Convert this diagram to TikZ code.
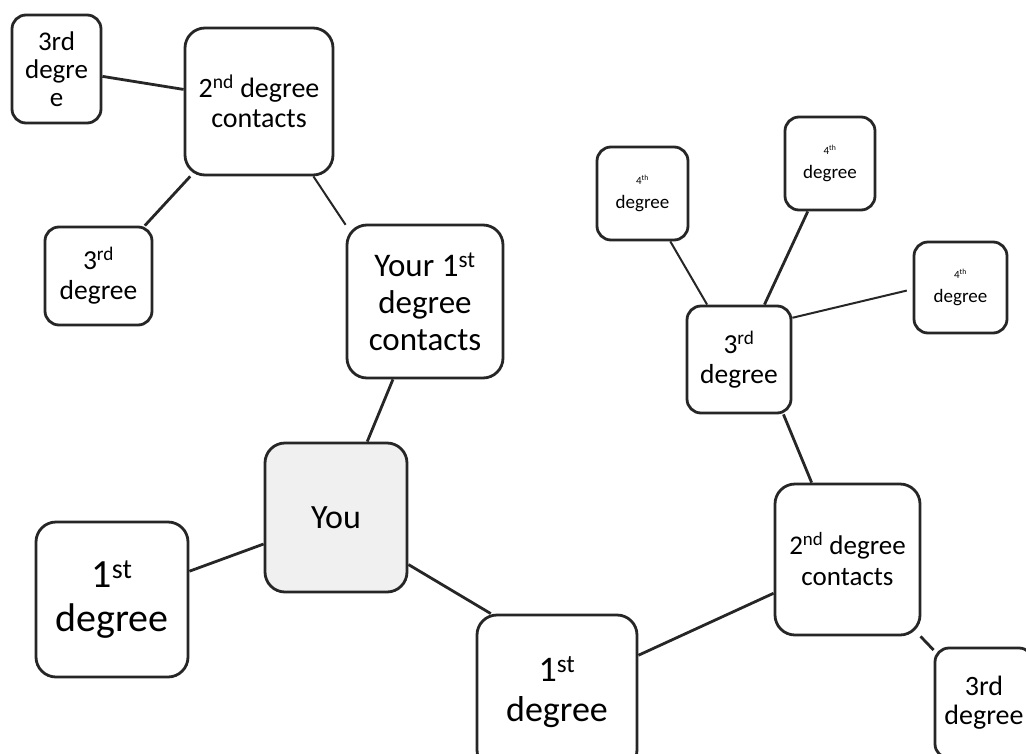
\documentclass[tikz,border=0pt]{standalone}
\usepackage{fontspec}
\setmainfont{Carlito}
\definecolor{bordercol}{HTML}{262626}
\definecolor{youfill}{HTML}{F0F0F0}
\newcommand\fsz[2]{\fontsize{#1}{#2}\selectfont}
\begin{document}
\begin{tikzpicture}[x=1pt,y=-1pt,
  box/.style={draw=bordercol, line width=2.8pt, rounded corners=20pt, align=center, inner sep=0pt, text=black},
  sbox/.style={box, rounded corners=14pt},
  link/.style={draw=bordercol, line width=2.8pt},
  thinlink/.style={draw=bordercol, line width=2pt}]
\useasboundingbox (0,0) rectangle (1026,753);
\clip (0,0) rectangle (1026,753);

% nodes
\node[sbox, minimum width=89pt, minimum height=108pt, font=\fsz{27}{28}] (A) at (56.5,69) {3rd\\degre\\e};
\node[box, minimum width=148pt, minimum height=147pt, font=\fsz{28}{30}] (B) at (259,101.5) {2\textsuperscript{nd} degree\\contacts};
\node[sbox, minimum width=107pt, minimum height=98pt, font=\fsz{27.5}{30}] (C) at (98.5,276) {3\textsuperscript{rd}\\degree};
\node[box, minimum width=156pt, minimum height=153pt, font=\fsz{33}{37}] (D) at (425,301.5) {Your 1\textsuperscript{st}\\degree\\contacts};
\node[box, fill=youfill, minimum width=142pt, minimum height=149pt, font=\fsz{34}{38}] (E) at (336,517.5) {You};
\node[box, minimum width=152pt, minimum height=155pt, font=\fsz{40}{44}] (F) at (112,599.5) {1\textsuperscript{st}\\degree};
\node[box, minimum width=160pt, minimum height=155pt, font=\fsz{36}{40}] (G) at (557,692.5) {1\textsuperscript{st}\\degree};
\node[box, minimum width=145pt, minimum height=151pt, font=\fsz{27}{31}] (H) at (847.5,559.5) {2\textsuperscript{nd} degree\\contacts};
\node[sbox, minimum width=98pt, minimum height=110pt, font=\fsz{28}{29}] (I) at (984,703) {3rd\\degree};
\node[sbox, minimum width=104pt, minimum height=107pt, font=\fsz{27.5}{30}] (M) at (739,359.5) {3\textsuperscript{rd}\\degree};
\node[sbox, minimum width=91pt, minimum height=93pt, font=\fsz{19}{24}] (J) at (642.5,193.5) {{\fsz{11}{12}4\textsuperscript{th}}\\degree};
\node[sbox, minimum width=90pt, minimum height=93pt, font=\fsz{19}{24}] (K) at (830,163.5) {{\fsz{11}{12}4\textsuperscript{th}}\\degree};
\node[sbox, minimum width=93pt, minimum height=91pt, font=\fsz{19}{24}] (L) at (960.5,287.5) {{\fsz{11}{12}4\textsuperscript{th}}\\degree};

% connectors
\draw[link] (A) -- (B);
\draw[link] (C) -- (B);
\draw[thinlink] (B.-54) -- (D.136);
\draw[link] (D) -- (E);
\draw[link] (E) -- (F);
\draw[link] (E.-33) -- (G.130);
\draw[link] (G) -- (H);
\draw[link] (H.115) -- (M.-51);
\draw[link] (H) -- (I);
\draw[thinlink] (M) -- (J);
\draw[link] (M) -- (K);
\draw[thinlink, shorten >=6pt] (M.38) -- (L.182);
\end{tikzpicture}
\end{document}
